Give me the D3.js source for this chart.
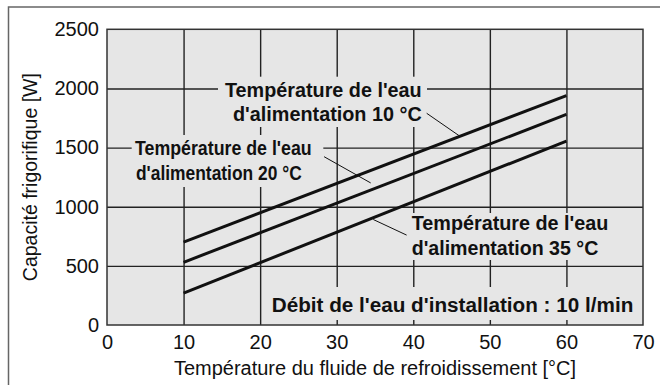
<!DOCTYPE html>
<html>
<head>
<meta charset="utf-8">
<script src="https://cdn.jsdelivr.net/npm/d3@7"></script>
<style>
  html, body { margin: 0; padding: 0; background: #fff; }
  svg { display: block; font-family: "Liberation Sans", Arial, Helvetica, sans-serif; }
</style>
</head>
<body>
<svg id="chart" width="660" height="385"></svg>
<script>
// Cooling capacity vs. coolant temperature, for three supply-water temperatures
const coolantTemp = [10, 60];                 // °C
const cap10 = [700, 1940];                    // W, supply water 10 °C
const cap20 = [530, 1780];                    // W, supply water 20 °C
const cap35 = [270, 1555];                    // W, supply water 35 °C
const xTicks = [0, 10, 20, 30, 40, 50, 60, 70];
const yTicks = [0, 500, 1000, 1500, 2000, 2500];

const series = [
  { name: "10", values: cap10 },
  { name: "20", values: cap20 },
  { name: "35", values: cap35 }
];

const svg = d3.select("#chart");
const plotL = 107, plotR = 643, plotT = 29.3, plotB = 325;
const bg = "#e6e6e6", ink = "#111";
const font = "'Liberation Sans', Arial, Helvetica, sans-serif";

const x = d3.scaleLinear().domain([0, 70]).range([plotL, plotR]);
const y = d3.scaleLinear().domain([0, 2500]).range([plotB, plotT]);

// outer frame
svg.append("rect")
  .attr("x", 8.5).attr("y", 7).attr("width", 720).attr("height", 420)
  .attr("fill", "none").attr("stroke", "#666").attr("stroke-width", 1.5);

// plot background
svg.append("rect")
  .attr("x", plotL).attr("y", plotT).attr("width", plotR - plotL).attr("height", plotB - plotT)
  .attr("fill", bg);

// grid
const gx = svg.append("g").attr("transform", `translate(0,${plotB})`)
  .call(d3.axisBottom(x).tickValues(xTicks.slice(1, -1)).tickSize(-(plotB - plotT)).tickFormat(""));
const gy = svg.append("g").attr("transform", `translate(${plotL},0)`)
  .call(d3.axisLeft(y).tickValues(yTicks.slice(1, -1)).tickSize(-(plotR - plotL)).tickFormat(""));
[gx, gy].forEach(g => {
  g.select(".domain").remove();
  g.selectAll(".tick line").attr("stroke", "#222").attr("stroke-width", 1.4);
});

// label backings that break the grid
const boxes = [
  [218, 76.7, 427, 127],
  [131.7, 135, 323.3, 187],
  [405, 213, 615, 260],
  [265, 287, 640, 320]
];
svg.append("g").selectAll("rect").data(boxes).join("rect")
  .attr("x", d => d[0]).attr("y", d => d[1])
  .attr("width", d => d[2] - d[0]).attr("height", d => d[3] - d[1])
  .attr("fill", bg);

// plot border
svg.append("rect")
  .attr("x", plotL).attr("y", plotT).attr("width", plotR - plotL).attr("height", plotB - plotT)
  .attr("fill", "none").attr("stroke", "#333").attr("stroke-width", 1.5);

// data lines
const line = d3.line().x((d, i) => x(coolantTemp[i])).y(d => y(d));
svg.append("g").selectAll("path").data(series).join("path")
  .attr("d", d => line(d.values))
  .attr("fill", "none").attr("stroke", ink).attr("stroke-width", 3);

// value on a series at a given coolant temperature
function at(vals, t) {
  return d3.scaleLinear().domain(coolantTemp).range(vals)(t);
}

// leader lines: start in data space, end on (or near) the series
const leaders = [
  { x1: 41.75, y1: 1790, x2: 46.1, y2: at(cap10, 46.1) },
  { x1: 28.35, y1: 1423, x2: 34.44, y2: at(cap20, 34.44) + 60 },
  { x1: 34.77, y1: 892, x2: 39.13, y2: 760 }
];
svg.append("g").selectAll("line").data(leaders).join("line")
  .attr("x1", d => x(d.x1)).attr("y1", d => y(d.y1))
  .attr("x2", d => x(d.x2)).attr("y2", d => y(d.y2))
  .attr("stroke", ink).attr("stroke-width", 1);

// annotations
const notes = [
  { t: "Température de l'eau", x: 225, y: 96.7, w: 196.7 },
  { t: "d'alimentation 10 °C", x: 233, y: 120.5, w: 188.7 },
  { t: "Température de l'eau", x: 135, y: 155, w: 176.7 },
  { t: "d'alimentation 20 °C", x: 136, y: 180, w: 165.7 },
  { t: "Température de l'eau", x: 411.7, y: 230, w: 196.7 },
  { t: "d'alimentation 35 °C", x: 411.7, y: 255, w: 186.6 },
  { t: "Débit de l'eau d'installation : 10 l/min", x: 271.7, y: 311.7, w: 361.6 }
];
svg.append("g").selectAll("text").data(notes).join("text")
  .attr("x", d => d.x).attr("y", d => d.y)
  .attr("textLength", d => d.w).attr("lengthAdjust", "spacingAndGlyphs")
  .attr("font-size", 20).attr("font-weight", "bold").attr("fill", ink)
  .attr("font-family", font)
  .text(d => d.t);

// axes tick labels
const ax = svg.append("g").attr("transform", `translate(0,${plotB})`)
  .call(d3.axisBottom(x).tickValues(xTicks).tickSize(0).tickPadding(9.5).tickFormat(d3.format("d")));
const ay = svg.append("g").attr("transform", `translate(${plotL},0)`)
  .call(d3.axisLeft(y).tickValues(yTicks).tickSize(0).tickPadding(8).tickFormat(d3.format("d")));
[ax, ay].forEach(g => {
  g.attr("font-family", font).attr("font-size", 20);
  g.select(".domain").remove();
  g.selectAll("text").attr("fill", ink);
});

// axis titles
svg.append("text")
  .attr("x", (plotL + plotR) / 2).attr("y", 375)
  .attr("text-anchor", "middle").attr("font-size", 19.5).attr("fill", ink)
  .attr("font-family", font)
  .attr("textLength", 402).attr("lengthAdjust", "spacingAndGlyphs")
  .text("Température du fluide de refroidissement [°C]");
svg.append("text")
  .attr("transform", `translate(36.7,${(plotT + plotB) / 2}) rotate(-90)`)
  .attr("text-anchor", "middle").attr("font-size", 19.5).attr("fill", ink)
  .attr("font-family", font)
  .text("Capacité frigorifique [W]");
</script>
</body>
</html>
